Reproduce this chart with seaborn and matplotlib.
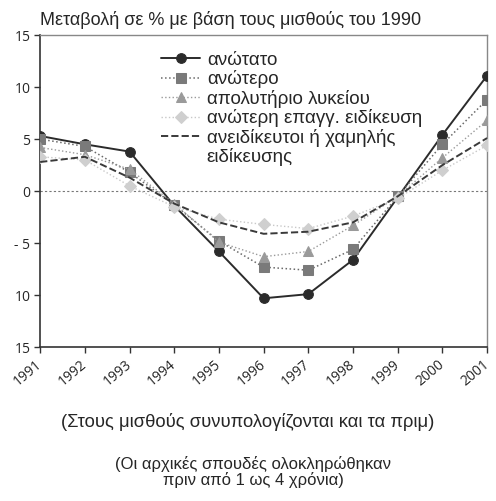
import numpy as np
import pandas as pd
import matplotlib
matplotlib.use("Agg")
import matplotlib.pyplot as plt
from matplotlib.lines import Line2D
import seaborn as sns

years = [1991, 1992, 1993, 1994, 1995, 1996, 1997, 1998, 1999, 2000, 2001]

anotato = [5.3, 4.5, 3.8, -1.4, -5.8, -10.3, -9.9, -6.6, -0.6, 5.4, 11.1]
anotero = [5.0, 4.3, 1.8, -1.3, -4.8, -7.3, -7.6, -5.6, -0.5, 4.5, 8.8]
lykeio = [4.2, 3.5, 2.1, -1.2, -4.9, -6.3, -5.8, -3.3, -0.5, 3.2, 6.8]
epaggelmatiki = [3.3, 3.0, 0.5, -1.5, -2.7, -3.2, -3.6, -2.4, -0.7, 2.0, 4.4]
aneidikeftoi = [2.8, 3.3, 1.3, -1.2, -3.0, -4.1, -3.9, -3.0, -0.5, 2.5, 5.1]

labels = ["ανώτατο", "ανώτερο", "απολυτήριο λυκείου",
          "ανώτερη επαγγ. ειδίκευση", "ανειδίκευτοι ή χαμηλής"]
label_cont = "ειδίκευσης"  # second line of the last legend entry
series = [anotato, anotero, lykeio, epaggelmatiki, aneidikeftoi]

y_ticks = [15, 10, 5, 0, -5, -10, -15]
y_ticklabels = ["15", "10", "5", "0", "- 5", "10", "15"]

title = "Μεταβολή σε % με βάση τους μισθούς του 1990"
note1 = "(Στους μισθούς συνυπολογίζονται και τα πριμ)"
note2 = "(Οι αρχικές σπουδές ολοκληρώθηκαν\nπριν από 1 ως 4 χρόνια)"

df = pd.DataFrame({"year": years * len(series),
                   "value": np.concatenate(series),
                   "group": np.repeat(labels, len(years))})

sns.set_style("white")
plt.rcParams["font.family"] = ["Liberation Sans", "DejaVu Sans"]

# line colour, marker colour, marker, linestyle, line width, marker size
styles = {
    labels[0]: ("#2b2b2b", "#2b2b2b", "o", "-", 1.4, 7),
    labels[1]: ("#6a6a6a", "#7a7a7a", "s", ":", 1.1, 6.5),
    labels[2]: ("#9a9a9a", "#9a9a9a", "^", ":", 1.0, 6.5),
    labels[3]: ("#c8c8c8", "#cfcfcf", "D", ":", 1.0, 6),
    labels[4]: ("#3a3a3a", "#3a3a3a", None, "--", 1.4, 0),
}

fig = plt.figure(figsize=(4.96, 5.01), dpi=100)
ax = fig.add_axes([0.081, 0.307, 0.901, 0.623])

ax.axhline(0, color="#777777", lw=0.8, ls=(0, (2, 2)), zorder=1)

for lab in labels:
    lc, mc, mk, ls, lw, ms = styles[lab]
    sub = df[df["group"] == lab]
    sns.lineplot(data=sub, x="year", y="value", ax=ax, color=lc, linestyle=ls,
                 linewidth=lw, marker=mk, markersize=ms, markerfacecolor=mc,
                 markeredgecolor=mc, label=lab, zorder=3)

ax.set_xlim(1991, 2001)
ax.set_ylim(-15, 15)
ax.set_xticks(years)
ax.set_xticklabels([str(y) for y in years], rotation=40, ha="right", va="center",
                   rotation_mode="anchor", fontsize=10, family="Open Sans")
ax.set_yticks(y_ticks)
ax.set_yticklabels(y_ticklabels, fontsize=10, family="Open Sans")
ax.set_xlabel("")
ax.set_ylabel("")
ax.tick_params(axis="both", direction="out", length=4, width=1, color="#333333",
               left=True, bottom=True, pad=3)
ax.tick_params(axis="x", pad=7)

for side in ["left", "bottom"]:
    ax.spines[side].set_color("#333333")
    ax.spines[side].set_linewidth(1.2)
for side in ["top", "right"]:
    ax.spines[side].set_color("#888888")
    ax.spines[side].set_linewidth(1.0)

handles, leg_labels = ax.get_legend_handles_labels()
handles.append(Line2D([], [], color="none"))
leg_labels.append(label_cont)
ax.legend(handles, leg_labels, loc="upper left", bbox_to_anchor=(0.27, 0.947),
          frameon=False, fontsize=13.5, handlelength=2.1, handletextpad=0.35,
          labelspacing=0.08, borderaxespad=0, borderpad=0)

fig.text(0.081, 0.95, title, fontsize=13, ha="left", va="baseline")
fig.text(0.5, 0.158, note1, fontsize=13.2, ha="center", va="center")
fig.text(0.51, 0.058, note2, fontsize=12, ha="center", va="center",
         linespacing=1.05)

fig.savefig("out.png", dpi=100)
